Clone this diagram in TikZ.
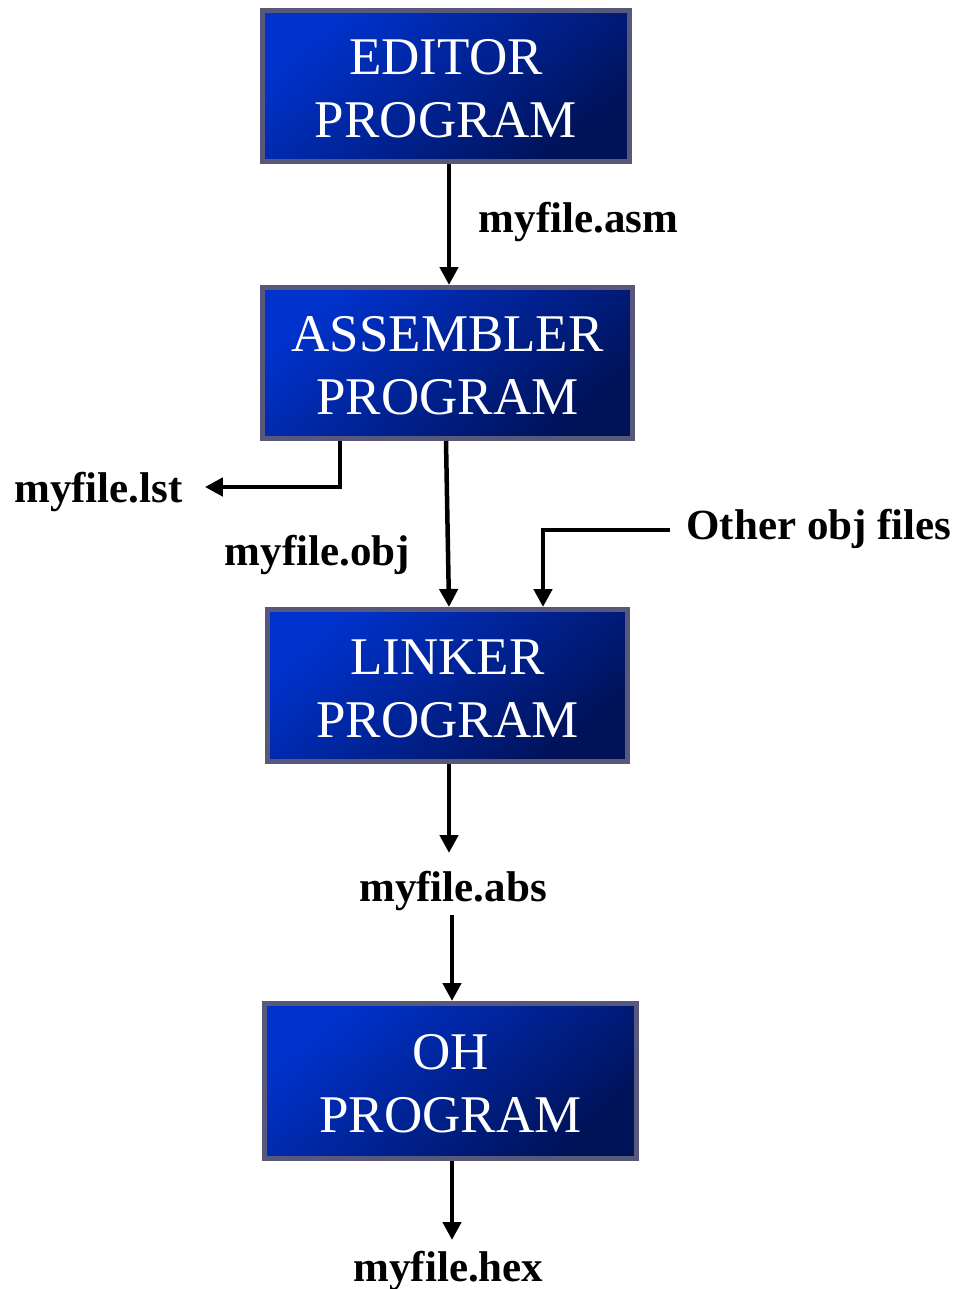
\documentclass[tikz,border=0pt]{standalone}
\usepackage{fontspec}
\setmainfont{Liberation Serif}
\usetikzlibrary{arrows.meta}
\definecolor{boxborder}{RGB}{88,88,122}
\definecolor{boxlight}{RGB}{0,50,205}
\definecolor{boxdark}{RGB}{0,18,88}
\tikzset{
  prog/.style={draw=boxborder, line width=5pt, top color=boxlight, bottom color=boxdark,
    shading angle=40, text=white, align=center, inner sep=0pt, text height=104pt,
    font=\fontsize{53}{63}\selectfont},
  lbl/.style={inner sep=0pt, font=\fontsize{43}{50}\selectfont\bfseries},
  arr/.style={line width=4.5pt, -{Triangle[length=18pt,width=18pt]}}
}
\begin{document}
\begin{tikzpicture}[x=1pt,y=-1pt]
\useasboundingbox (0,0) rectangle (957,1289);
\node[prog, minimum width=367pt, minimum height=151pt] (editor) at (446,86) {EDITOR\\PROGRAM};
\node[prog, minimum width=370pt, minimum height=151pt] (asm) at (447.5,363) {ASSEMBLER\\PROGRAM};
\node[prog, minimum width=360pt, minimum height=152pt] (linker) at (447.5,685.5) {LINKER\\PROGRAM};
\node[prog, minimum width=372pt, minimum height=155pt] (oh) at (450.5,1081) {OH\\PROGRAM};

\node[lbl] (asmf) at (578.5,222) {myfile.asm};
\node[lbl] (lst) at (98.5,492) {myfile.lst};
\node[lbl] (obj) at (317.5,555) {myfile.obj};
\node[lbl] (other) at (819,529) {Other obj files};
\node[lbl] (abs) at (453,891) {myfile.abs};
\node[lbl] (hex) at (448.5,1271) {myfile.hex};

\coordinate (lstturn) at (340,487);
\coordinate (ocorner) at (543,530);
\coordinate (absin) at (449,853);
\coordinate (absout) at (452,915);
\coordinate (hexin) at (452,1240);

\draw[arr] ([xshift=3pt]editor.south) -- ([xshift=1.5pt]asm.north);
\draw[arr] ([xshift=-1.5pt]asm.south) -- ([xshift=1.5pt]linker.north);
\draw[arr, line join=miter, shorten >=22pt] (asm.south -| lstturn) -- (lstturn) -- (lstturn -| lst.east);
\draw[arr, line join=miter, shorten <=16pt] (other.west |- ocorner) -- (ocorner) -- (ocorner |- linker.north);
\draw[arr] (linker.south -| absin) -- (absin);
\draw[arr] (absout) -- (absout |- oh.north);
\draw[arr] (oh.south -| hexin) -- (hexin);
\end{tikzpicture}
\end{document}
